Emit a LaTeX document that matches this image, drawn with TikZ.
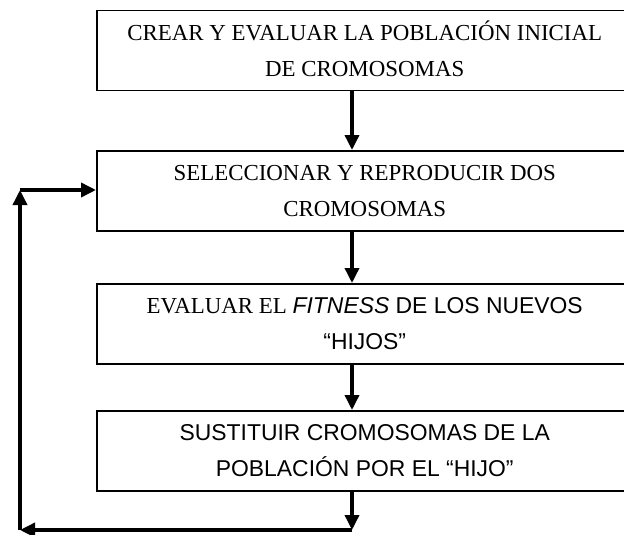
\documentclass[tikz,border=0pt]{standalone}
\usepackage{fontspec}
\setmainfont{Liberation Serif}
\newfontfamily\arial{Liberation Sans}
\usetikzlibrary{arrows.meta}
\newcommand{\twolines}[2]{\rule{0pt}{30pt}#1\\#2\rule[-14pt]{0pt}{14pt}}
\begin{document}
\begin{tikzpicture}[x=1pt,y=-1pt,
  stepbox/.style={draw=black,line width=1.5pt,rectangle,inner sep=0pt,
    minimum width=536pt,minimum height=80pt,anchor=north west,align=center,
    font=\fontsize{22.9}{36}\selectfont},
  arr/.style={line width=3.5pt,-{Triangle[length=15pt,width=14pt]},line cap=butt}]
\useasboundingbox (0,0) rectangle (624,535);
\node[stepbox] (b1) at (96,10) {\twolines{CREAR Y EVALUAR LA POBLACIÓN INICIAL}{DE CROMOSOMAS}};
\node[stepbox] (b2) at (96,150) {\twolines{SELECCIONAR Y REPRODUCIR DOS}{CROMOSOMAS}};
\node[stepbox] (b3) at (96,283) {\twolines{EVALUAR EL {\arial\itshape FITNESS}{\arial{} DE LOS NUEVOS}}{{\arial “HIJOS”}}};
\node[stepbox] (b4) at (96,410) {\twolines{{\arial SUSTITUIR CROMOSOMAS DE LA}}{{\arial POBLACIÓN POR EL “HIJO”}}};
\coordinate (c1) at (352,530);
\coordinate (c2) at (20,530);
\coordinate (c3) at (20,190);
\draw[arr] (b1.south -| c1) -- (b2.north -| c1);
\draw[arr] (b2.south -| c1) -- (b3.north -| c1);
\draw[arr] (b3.south -| c1) -- (b4.north -| c1);
\draw[arr] (b4.south -| c1) -- (c1);
\draw[arr] (c1) -- (c2);
\draw[arr] (c2) -- (c3);
\draw[arr] (c3) -- (b2.west |- c3);
\end{tikzpicture}
\end{document}
